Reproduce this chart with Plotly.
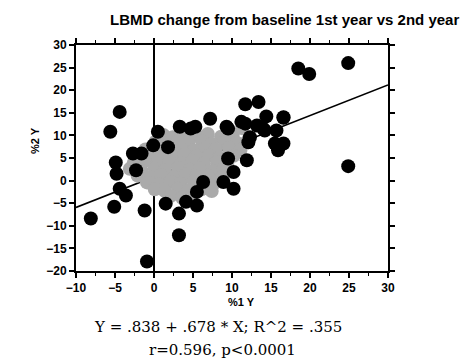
import plotly.graph_objects as go

# ---- data ----
# outer, resolvable points
outer_x = [
    -4.4, -5.6, 0.5, 3.3, 5.3, 7.2, 9.3, 11.7, 13.4, 14.4, 16.6, 15.7, 11.2, 12.3,
    -0.1, 1.8, -2.7, -1.6, -4.9, -4.8, -4.4, -2.3,
    9.5, 11.7, 13.2, 14.2, 12.1, 15.5, 16.6, 15.9, 11.9, 9.5, 10.2, 14.0, 16.6,
    -5.1, -8.1, -1.2, 3.2, 3.2, -0.9, 1.5, -3.6, 4.1, 5.5, 10.2, 8.9, 6.3, 5.5,
    24.9, 18.5, 19.9, 24.9, 4.7,
]
outer_y = [
    15.2, 10.8, 10.8, 11.9, 11.9, 13.7, 11.9, 16.9, 17.4, 14.2, 14.0, 11.1, 13.0, 9.6,
    7.8, 7.4, 6.0, 6.0, 4.0, 1.5, -1.8, 2.3,
    11.5, 12.6, 12.2, 11.1, 8.5, 8.2, 8.2, 6.7, 4.5, 4.9, 1.9, 11.5, 13.9,
    -5.8, -8.4, -6.6, -7.3, -12.1, -17.9, -5.1, -3.3, -4.7, -5.5, -1.8, -0.3, -0.3, -2.5,
    26.0, 24.8, 23.6, 3.2, 11.5,
]
# dense central cluster (overlapping, estimated)
core_x = [
    1.2, 2.4, 4.1, 5.6, 6.9, 8.6, 10.1, 11.3,
    0.2, 1.6, 3.1, 4.4, 6.2, 7.4, 9.1, 10.6, 12.0,
    -1.1, 0.6, 2.1, 3.4, 5.1, 6.6, 7.9, 9.6, 11.1,
    -2.2, -0.4, 1.1, 2.6, 3.9, 5.4, 7.1, 8.4, 10.2,
    -2.6, -1.2, 0.4, 2.0, 3.6, 4.9, 6.4, 8.1, 9.4,
    -3.1, -1.6, 0.1, 1.4, 3.1, 4.6, 5.9, 7.6, 8.9,
    -2.1, -0.6, 0.9, 2.6, 4.1, 5.4, 6.9, 8.6,
    -0.9, 0.6, 2.1, 3.4, 5.1, 6.6, 7.9,
    0.1, 1.4, 3.1, 4.4, 6.1, 7.4,
    2.1, 3.6, 4.9,
]
core_y = [
    10.1, 9.6, 10.4, 9.8, 10.3, 9.7, 10.2, 11.6,
    8.6, 8.2, 8.8, 8.3, 8.7, 8.1, 8.6, 8.4, 8.8,
    6.9, 7.2, 6.8, 7.3, 6.7, 7.1, 6.9, 7.2, 6.8,
    5.6, 5.2, 5.7, 5.3, 5.8, 5.4, 5.6, 5.1, 5.5,
    3.9, 4.3, 3.8, 4.2, 3.9, 4.4, 3.8, 4.1, 3.7,
    2.6, 2.2, 2.7, 2.3, 2.8, 2.4, 2.6, 2.2, 2.5,
    1.1, 0.7, 1.2, 0.8, 1.3, 0.9, 1.1, 0.6,
    -0.4, -0.8, -0.3, -0.7, -0.2, -0.6, -0.4,
    -1.9, -2.3, -1.8, -2.2, -1.9, -2.3,
    -3.4, -3.8, -3.3,
]

intercept = 0.838
slope = 0.678
line_x = [-10, 30]
line_y = [intercept + slope * v for v in line_x]

title_text = "LBMD change from baseline 1st year vs 2nd year"
x_title = "%1 Y"
y_title = "%2 Y"
eq_text = "Y = .838 + .678 * X; R^2 = .355"
r_text = "r=0.596, p<0.0001"

L, R, T, B = 76, 78, 45, 88
W, H = 466, 359
pw, ph = W - L - R, H - T - B

def px(xp):
    return (xp - L) / pw

def py(yp):
    return (H - B - yp) / ph

fig = go.Figure()
fig.add_trace(go.Scatter(
    x=line_x, y=line_y, mode="lines",
    line=dict(color="black", width=1.6), showlegend=False, hoverinfo="skip"))
# overlapping core: rendered as halftone-like grey
fig.add_trace(go.Scatter(
    x=core_x, y=core_y, mode="markers",
    marker=dict(size=14, color="#aaaaaa", line=dict(width=0)),
    showlegend=False, hoverinfo="skip"))
fig.add_trace(go.Scatter(
    x=outer_x, y=outer_y, mode="markers",
    marker=dict(size=14, color="black", line=dict(width=0)),
    showlegend=False, hoverinfo="skip"))

axis_common = dict(
    showline=True, linecolor="black", linewidth=2, mirror="ticks",
    ticks="outside", tickcolor="black", tickwidth=1.5, ticklen=5,
    showgrid=False,
    tickfont=dict(family="Liberation Sans, Arial", size=12, color="black", weight="bold"),
)
fig.update_xaxes(range=[-10, 30], dtick=5, tick0=-10,
                 zeroline=True, zerolinecolor="black", zerolinewidth=1.5,
                 minor=dict(ticks="outside", ticklen=3, dtick=2.5, tickcolor="black", tickwidth=1),
                 **axis_common)
fig.update_yaxes(range=[-20, 30], dtick=5, tick0=-20, zeroline=False,
                 **axis_common)

annotations = [
    dict(text="<b>" + title_text + "</b>", x=px(284), y=py(20), xref="paper", yref="paper",
         showarrow=False, font=dict(family="Liberation Sans, Arial", size=15, color="black"),
         xanchor="center", yanchor="middle"),
    dict(text="<b>" + x_title + "</b>", x=px(241), y=py(302), xref="paper", yref="paper",
         showarrow=False, font=dict(family="Liberation Sans, Arial", size=11, color="black"),
         xanchor="center", yanchor="middle"),
    dict(text="<b>" + y_title + "</b>", x=px(35), y=py(141), xref="paper", yref="paper",
         showarrow=False, textangle=-90,
         font=dict(family="Liberation Sans, Arial", size=11, color="black"),
         xanchor="center", yanchor="middle"),
    dict(text=eq_text, x=px(218), y=py(327), xref="paper", yref="paper",
         showarrow=False, font=dict(family="DejaVu Serif", size=15, color="black"),
         xanchor="center", yanchor="middle"),
    dict(text=r_text, x=px(222), y=py(350), xref="paper", yref="paper",
         showarrow=False, font=dict(family="DejaVu Serif", size=15, color="black"),
         xanchor="center", yanchor="middle"),
]

fig.update_layout(
    width=W, height=H,
    margin=dict(l=L, r=R, t=T, b=B, pad=0),
    paper_bgcolor="white", plot_bgcolor="white",
    annotations=annotations,
)

fig.write_html("out.html")
